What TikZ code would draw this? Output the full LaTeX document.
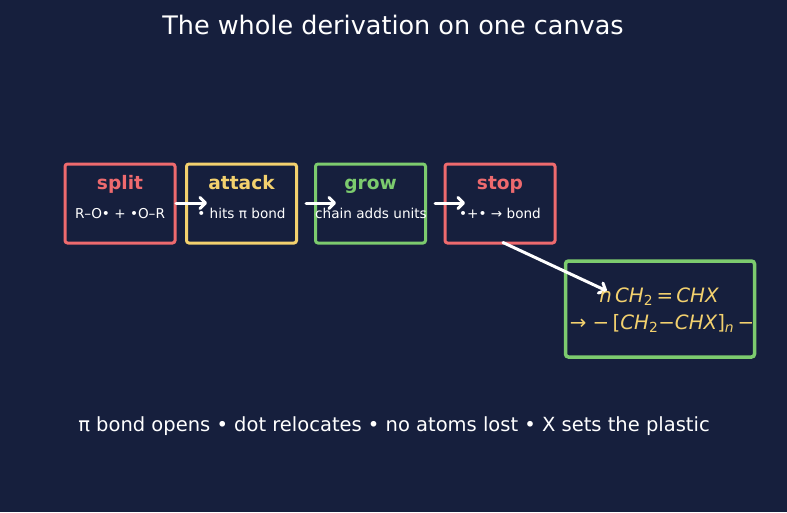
\documentclass[tikz,border=0pt]{standalone}
\usepackage{fontspec}
\setmainfont{DejaVu Sans}
\usetikzlibrary{arrows.meta}
\definecolor{bg}{HTML}{161F3D}
\definecolor{cred}{HTML}{EE6A6E}
\definecolor{cyel}{HTML}{F3D16E}
\definecolor{cgrn}{HTML}{7CCB6E}
\tikzset{
  x=1pt, y=-1pt,
  stepbox/.style={draw=#1, line width=3pt, rounded corners=2.5pt, minimum width=110pt, minimum height=79pt, anchor=north west, outer sep=0pt},
  boxtitle/.style={font=\fontsize{18.6}{22}\selectfont\bfseries, text=#1, anchor=base},
  boxsub/.style={font=\fontsize{13.6}{16}\selectfont, text=white, anchor=base},
  formula/.style={font=\fontsize{19.8}{23}\selectfont, text=cyel, anchor=base},
  flow/.style={draw=white, line width=3pt, line cap=round, -{Straight Barb[length=5.5pt,width=11pt,line cap=round,line join=round]}},
}
\begin{document}
\begin{tikzpicture}
\fill[bg] (0,0) rectangle (787,512);
\useasboundingbox (0,0) rectangle (787,512);
\node[font=\fontsize{25.5}{30}\selectfont, text=white, anchor=base] (title) at (393,34) {The whole derivation on one canvas};

\node[stepbox=cred] (b1) at (65,164) {};
\node[stepbox=cyel] (b2) at (186.5,164) {};
\node[stepbox=cgrn] (b3) at (315.5,164) {};
\node[stepbox=cred] (b4) at (445,164) {};
\node[draw=cgrn, line width=3.5pt, rounded corners=3pt, minimum width=189pt, minimum height=96pt, anchor=north west, outer sep=0pt] (b5) at (565.5,261) {};

\node[boxtitle=cred] (t1) at (120,189.5) {split};
\node[boxtitle=cyel] (t2) at (241.5,189.5) {attack};
\node[boxtitle=cgrn] (t3) at (370.5,189.5) {grow};
\node[boxtitle=cred] (t4) at (500,189.5) {stop};

\node[boxsub] (s1) at (120,218.8) {R–O• + •O–R};
\node[boxsub] (s2) at (241.5,218.8) {• hits π bond};
\node[boxsub] (s3) at (371,218.8) {chain adds units};
\node[boxsub] (s4) at (500,218.8) {•+• → bond};

\coordinate (a1s) at (176,203); \coordinate (a1e) at (207,203);
\coordinate (a2s) at (306,203); \coordinate (a2e) at (336,203);
\coordinate (a3s) at (435,203); \coordinate (a3e) at (465,203);
\draw[flow] (a1s) -- (a1e);
\draw[flow] (a2s) -- (a2e);
\draw[flow] (a3s) -- (a3e);
\coordinate (d1) at (503,242.5);
\coordinate (d2) at (607,291);
\draw[flow] (d1) -- (d2);

\node[formula] (f1) at (659,302.7) {\itshape n\,CH\textsubscript{\upshape 2}\,=\,CHX};
\node[formula] (f2) at (662,329) {→ −\,[{\itshape CH}\textsubscript{2}−{\itshape CHX}]\textsubscript{\itshape n}\,−};

\node[font=\fontsize{19.5}{23}\selectfont, text=white, anchor=base] (foot) at (394,431) {π bond opens • dot relocates • no atoms lost • X sets the plastic};
\end{tikzpicture}
\end{document}
